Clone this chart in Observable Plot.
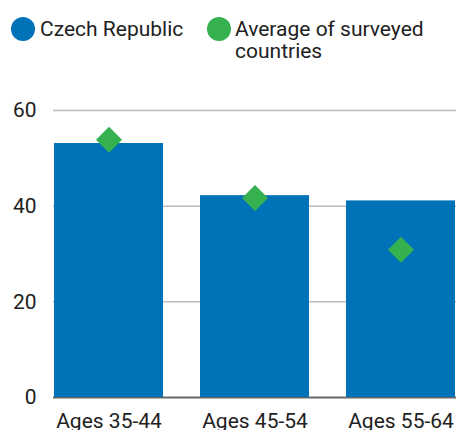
<!DOCTYPE html>
<html>
<head>
<meta charset="utf-8">
<script src="https://cdn.jsdelivr.net/npm/d3@7"></script>
<script src="https://cdn.jsdelivr.net/npm/@observablehq/plot@0.6"></script>
<style>
  html, body { margin: 0; padding: 0; background: #fff; overflow: hidden; }
  body { width: 456px; height: 430px; font-family: Roboto, sans-serif; color: #212121; }
  #legend { position: relative; height: 70px; font-size: 21px; line-height: 22px; }
  .sw { position: absolute; width: 24px; height: 24px; border-radius: 50%; top: 17px; }
  .lt { position: absolute; top: 18px; }
</style>
</head>
<body>
<div id="legend"></div>
<div id="chart"></div>
<script>
const categories = ["Ages 35-44", "Ages 45-54", "Ages 55-64"];
const czechValues = [53.1, 42.2, 41.1];
const averageValues = [53.9, 41.7, 30.9];
const yTicks = [0, 20, 40, 60];
const seriesNames = ["Czech Republic", "Average of surveyed countries"];
const seriesColors = ["#0072b8", "#35b24f"];

// Legend
const legend = document.getElementById("legend");
const legendPos = [{c: 11, t: 40, w: 165}, {c: 207, t: 235, w: 210}];
seriesNames.forEach((name, i) => {
  const sw = document.createElement("div");
  sw.className = "sw";
  sw.style.left = legendPos[i].c + "px";
  sw.style.background = seriesColors[i];
  legend.appendChild(sw);
  const t = document.createElement("div");
  t.className = "lt";
  t.style.left = legendPos[i].t + "px";
  t.style.width = legendPos[i].w + "px";
  t.textContent = name;
  legend.appendChild(t);
});

const data = categories.map((c, i) => ({cat: c, czech: czechValues[i], avg: averageValues[i]}));

const chart = Plot.plot({
  width: 456,
  height: 367,
  marginLeft: 53,
  marginRight: 0,
  marginTop: 40,
  marginBottom: 40,
  style: {fontFamily: "Roboto, sans-serif", fontSize: "21px", color: "#212121", background: "white", overflow: "visible"},
  x: {domain: categories, paddingInner: 0.256, paddingOuter: 0, label: null},
  y: {domain: [0, 60], label: null},
  marks: [
    Plot.ruleY(yTicks.filter(d => d !== 0), {stroke: "#bdbdbd", strokeWidth: 1.5}),
    Plot.ruleY([0], {stroke: "#666", strokeWidth: 2}),
    Plot.barY(data, {x: "cat", y: "czech", fill: seriesColors[0]}),
    Plot.dot(data, {x: "cat", y: "avg", symbol: "diamond2", r: 11.7, fill: seriesColors[1], stroke: null}),
    Plot.axisX({tickSize: 0, tickPadding: 16, label: null, fill: "#212121"}),
    Plot.axisY({ticks: yTicks, tickSize: 0, tickPadding: 17, label: null, fill: "#212121"})
  ]
});
document.getElementById("chart").appendChild(chart);
</script>
</body>
</html>
